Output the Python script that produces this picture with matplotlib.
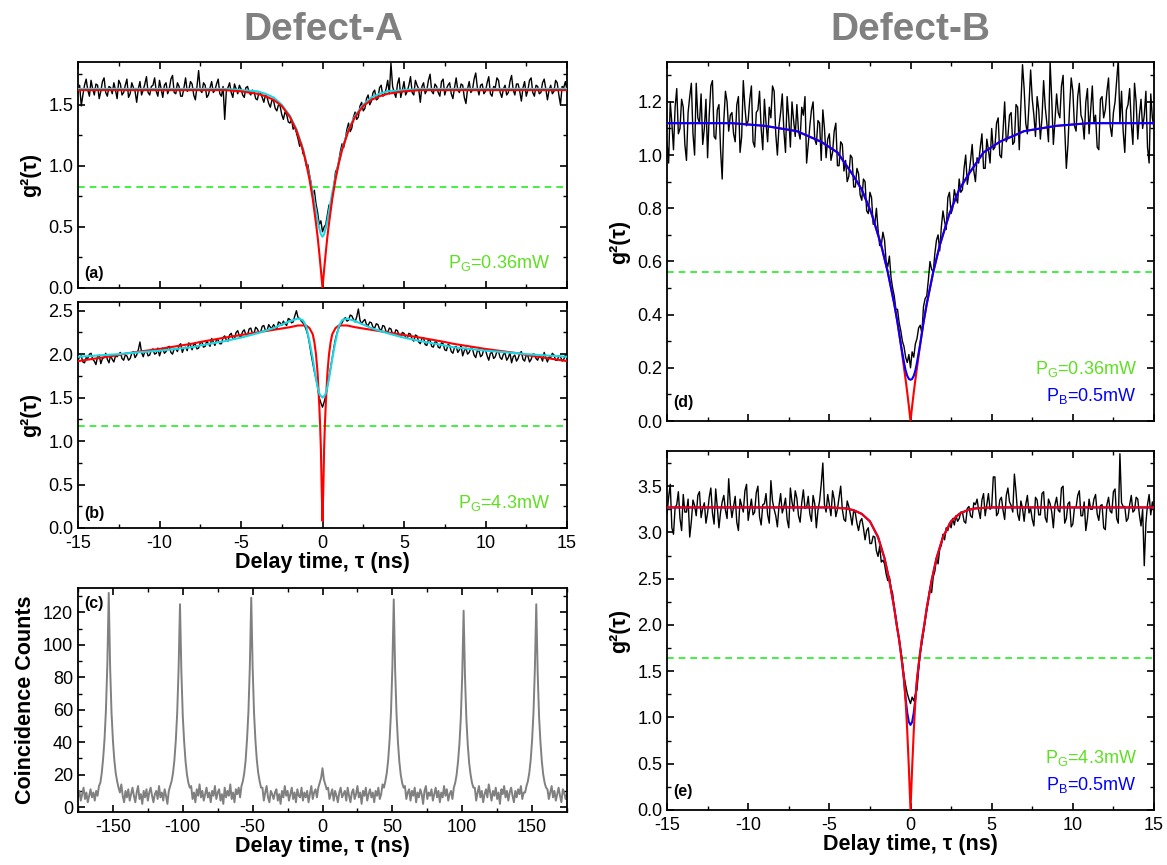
import numpy as np
import matplotlib

matplotlib.use("Agg")
import matplotlib.pyplot as plt
from matplotlib.ticker import MultipleLocator, FormatStrFormatter

INK = "#000000"
RED = "#ff0000"
CYAN = "#19d8e6"
BLUE = "#0000ff"
LIME = "#22ee22"
LIME_TXT = "#5ee022"
GRAY = "#808080"

plt.rcParams.update({
    "font.family": ["Liberation Sans", "DejaVu Sans"],
    "mathtext.default": "regular",
    "axes.unicode_minus": False,
    "axes.linewidth": 1.3,
    "xtick.direction": "in",
    "ytick.direction": "in",
    "xtick.top": True,
    "ytick.right": True,
    "xtick.major.size": 5,
    "ytick.major.size": 5,
    "xtick.minor.size": 3,
    "ytick.minor.size": 3,
    "xtick.major.width": 1.2,
    "ytick.major.width": 1.2,
    "xtick.minor.width": 1.0,
    "ytick.minor.width": 1.0,
    "xtick.major.pad": 5,
    "xtick.labelsize": 13,
    "ytick.labelsize": 13,
})

# ---- measured g2 traces, 0.1 ns bins from -15 to 15 ns (one row = 1 ns) ----
BIN_NS = 0.1
G2_A = [1.60, 1.66, 1.49, 1.58, 1.66, 1.71, 1.62, 1.57, 1.70, 1.63,
        1.58, 1.67, 1.66, 1.55, 1.61, 1.69, 1.72, 1.60, 1.57, 1.65,
        1.64, 1.59, 1.68, 1.62, 1.55, 1.70, 1.67, 1.58, 1.60, 1.66,
        1.71, 1.56, 1.59, 1.68, 1.64, 1.61, 1.52, 1.63, 1.69, 1.58,
        1.62, 1.67, 1.73, 1.60, 1.58, 1.65, 1.66, 1.72, 1.61, 1.57,
        1.70, 1.63, 1.56, 1.66, 1.68, 1.59, 1.63, 1.71, 1.74, 1.60,
        1.59, 1.68, 1.65, 1.57, 1.57, 1.64, 1.72, 1.61, 1.62, 1.69,
        1.67, 1.58, 1.54, 1.65, 1.78, 1.62, 1.60, 1.68, 1.66, 1.56,
        1.58, 1.64, 1.69, 1.60, 1.62, 1.67, 1.71, 1.59, 1.57, 1.65,
        1.38, 1.61, 1.64, 1.68, 1.60, 1.56, 1.67, 1.63, 1.59, 1.66,
        1.63, 1.58, 1.56, 1.64, 1.65, 1.60, 1.58, 1.62, 1.61, 1.55,
        1.54, 1.60, 1.60, 1.56, 1.52, 1.58, 1.56, 1.51, 1.48, 1.54,
        1.53, 1.47, 1.45, 1.50, 1.49, 1.42, 1.38, 1.44, 1.42, 1.36,
        1.35, 1.38, 1.30, 1.32, 1.27, 1.22, 1.16, 1.19, 1.10, 1.08,
        1.00, 1.01, 0.93, 0.86, 0.76, 0.80, 0.69, 0.62, 0.52, 0.55,
        0.46, 0.50, 0.52, 0.60, 0.68, 0.66, 0.74, 0.84, 0.95, 0.98,
        1.04, 1.12, 1.18, 1.15, 1.22, 1.30, 1.35, 1.28, 1.31, 1.40,
        1.44, 1.38, 1.40, 1.49, 1.52, 1.45, 1.47, 1.55, 1.58, 1.50,
        1.53, 1.60, 1.62, 1.54, 1.55, 1.64, 1.66, 1.57, 1.58, 1.63,
        1.70, 1.59, 1.84, 1.65, 1.60, 1.56, 1.67, 1.72, 1.56, 1.62,
        1.69, 1.58, 1.61, 1.66, 1.73, 1.60, 1.58, 1.70, 1.66, 1.63,
        1.52, 1.65, 1.68, 1.59, 1.62, 1.70, 1.75, 1.61, 1.59, 1.67,
        1.65, 1.60, 1.57, 1.69, 1.71, 1.58, 1.63, 1.66, 1.68, 1.59,
        1.55, 1.64, 1.72, 1.62, 1.60, 1.67, 1.66, 1.56, 1.51, 1.63,
        1.69, 1.60, 1.62, 1.71, 1.76, 1.64, 1.58, 1.66, 1.67, 1.59,
        1.61, 1.68, 1.73, 1.59, 1.57, 1.65, 1.64, 1.72, 1.70, 1.60,
        1.56, 1.63, 1.66, 1.58, 1.60, 1.69, 1.74, 1.62, 1.58, 1.67,
        1.67, 1.61, 1.53, 1.64, 1.69, 1.57, 1.62, 1.70, 1.72, 1.60,
        1.57, 1.66, 1.65, 1.59, 1.60, 1.68, 1.71, 1.63, 1.54, 1.62,
        1.66, 1.59, 1.61, 1.70, 1.68, 1.58, 1.50, 1.65, 1.64, 1.69,
        1.62]

G2_B = [1.93, 1.97, 1.98, 1.91, 1.90, 1.96, 1.95, 2.00, 2.01, 1.94,
        1.92, 1.88, 1.97, 1.99, 1.89, 1.95, 1.96, 2.01, 1.94, 1.90,
        1.99, 1.94, 1.91, 1.98, 1.97, 2.00, 2.02, 1.95, 1.93, 1.99,
        1.98, 1.93, 1.95, 2.01, 2.03, 1.96, 1.99, 2.05, 2.14, 2.02,
        1.97, 2.03, 2.04, 1.98, 1.99, 2.05, 2.06, 2.00, 2.01, 2.07,
        1.98, 2.04, 2.07, 2.01, 2.03, 2.08, 2.09, 2.02, 2.00, 2.06,
        2.06, 2.03, 2.10, 2.12, 2.02, 2.07, 2.08, 2.04, 2.13, 2.10,
        2.05, 2.11, 2.11, 2.06, 2.07, 2.13, 2.14, 2.08, 2.09, 2.15,
        2.12, 2.09, 2.18, 2.14, 2.10, 2.17, 2.16, 2.12, 2.12, 2.19,
        2.21, 2.16, 2.15, 2.22, 2.24, 2.18, 2.17, 2.25, 2.27, 2.21,
        2.20, 2.26, 2.28, 2.22, 2.22, 2.29, 2.30, 2.24, 2.24, 2.31,
        2.29, 2.25, 2.25, 2.32, 2.33, 2.27, 2.27, 2.34, 2.31, 2.30,
        2.34, 2.31, 2.29, 2.37, 2.36, 2.33, 2.38, 2.35, 2.33, 2.41,
        2.40, 2.36, 2.37, 2.44, 2.50, 2.42, 2.41, 2.38, 2.36, 2.33,
        2.28, 2.22, 2.12, 2.00, 1.90, 1.80, 1.72, 1.62, 1.50, 1.44,
        1.39, 1.45, 1.52, 1.63, 1.74, 1.85, 1.96, 2.08, 2.18, 2.25,
        2.30, 2.34, 2.36, 2.40, 2.42, 2.38, 2.39, 2.45, 2.44, 2.40,
        2.37, 2.43, 2.52, 2.39, 2.35, 2.38, 2.40, 2.34, 2.33, 2.37,
        2.36, 2.31, 2.30, 2.35, 2.34, 2.29, 2.27, 2.33, 2.32, 2.26,
        2.25, 2.30, 2.29, 2.23, 2.22, 2.28, 2.27, 2.21, 2.20, 2.25,
        2.24, 2.19, 2.18, 2.24, 2.23, 2.17, 2.15, 2.22, 2.21, 2.14,
        2.12, 2.18, 2.19, 2.11, 2.10, 2.17, 2.16, 2.09, 2.08, 2.14,
        2.14, 2.08, 2.07, 2.13, 2.12, 2.05, 2.04, 2.11, 2.10, 2.03,
        2.01, 2.08, 2.09, 2.02, 2.05, 2.10, 1.98, 2.04, 2.07, 2.00,
        2.02, 2.07, 2.06, 1.99, 1.96, 2.04, 2.04, 1.97, 1.99, 2.06,
        2.05, 1.98, 1.93, 2.01, 2.02, 1.95, 1.97, 2.03, 2.03, 1.96,
        1.94, 2.00, 2.01, 1.93, 1.96, 2.02, 1.90, 1.97, 1.99, 1.92,
        1.95, 2.01, 2.03, 1.94, 1.92, 1.99, 1.98, 1.91, 1.94, 2.00,
        2.00, 1.95, 1.93, 1.99, 1.97, 1.92, 2.02, 1.96, 1.91, 1.97,
        1.96, 2.01, 1.99, 1.93, 1.93, 1.98, 1.97, 1.92, 1.94, 1.99,
        1.96]

G2_D = [1.05, 0.97, 1.20, 1.12, 1.02, 1.18, 1.25, 1.08, 1.10, 1.21,
        1.18, 1.04, 0.98, 1.16, 1.22, 1.27, 1.08, 1.00, 1.27, 1.14,
        1.12, 1.23, 1.04, 1.10, 1.21, 0.99, 1.15, 1.26, 1.28, 1.07,
        1.06, 1.17, 1.19, 1.02, 0.91, 1.13, 1.24, 1.20, 1.09, 1.15,
        1.16, 1.08, 1.05, 1.19, 1.22, 1.01, 1.07, 1.28, 1.18, 1.11,
        1.13, 1.21, 1.26, 1.05, 1.03, 1.16, 1.17, 1.24, 1.10, 1.02,
        1.21, 1.12, 1.05, 1.18, 1.14, 1.26, 1.24, 1.08, 1.00, 1.11,
        1.16, 1.23, 1.09, 1.01, 1.22, 1.14, 1.03, 1.20, 1.13, 1.07,
        1.19, 1.09, 1.06, 1.18, 1.15, 1.22, 0.97, 1.04, 1.11, 1.17,
        1.20, 1.06, 1.04, 1.13, 1.12, 0.98, 1.17, 1.10, 0.99, 1.06,
        1.08, 0.98, 1.01, 1.09, 1.12, 0.96, 0.96, 1.05, 1.04, 0.94,
        0.98, 0.90, 0.92, 1.00, 0.99, 0.88, 0.88, 0.95, 0.93, 0.85,
        0.83, 0.91, 0.90, 0.79, 0.78, 0.86, 0.84, 0.74, 0.74, 0.80,
        0.72, 0.66, 0.66, 0.71, 0.68, 0.60, 0.58, 0.62, 0.54, 0.50,
        0.47, 0.42, 0.42, 0.37, 0.34, 0.30, 0.28, 0.24, 0.22, 0.25,
        0.20, 0.26, 0.24, 0.29, 0.31, 0.35, 0.36, 0.33, 0.43, 0.46,
        0.47, 0.53, 0.60, 0.57, 0.56, 0.63, 0.68, 0.70, 0.64, 0.73,
        0.79, 0.75, 0.72, 0.84, 0.86, 0.78, 0.80, 0.87, 0.84, 0.82,
        0.91, 0.86, 0.87, 0.95, 1.00, 0.89, 0.93, 0.98, 1.04, 0.94,
        0.90, 0.99, 0.97, 1.03, 1.08, 0.95, 0.95, 1.06, 1.02, 0.97,
        1.10, 1.02, 1.03, 1.12, 1.14, 1.00, 0.99, 1.09, 1.20, 1.05,
        1.07, 1.15, 1.16, 1.04, 1.05, 1.19, 1.18, 1.02, 1.19, 1.34,
        1.25, 1.12, 1.08, 1.19, 1.32, 1.21, 1.15, 1.07, 1.22, 1.17,
        1.06, 1.14, 1.28, 1.18, 1.12, 1.05, 1.35, 1.21, 1.04, 1.13,
        1.23, 1.16, 1.14, 1.26, 1.30, 1.10, 0.95, 1.04, 1.18, 1.29,
        1.24, 1.11, 1.09, 1.22, 1.27, 1.15, 1.13, 1.06, 1.20, 1.25,
        1.08, 1.17, 1.26, 1.12, 1.15, 1.03, 1.02, 1.21, 1.22, 1.14,
        1.17, 1.24, 1.29, 1.11, 1.07, 1.16, 1.20, 1.28, 1.36, 1.12,
        1.24, 1.09, 1.01, 1.17, 1.19, 1.25, 1.12, 1.04, 1.27, 1.20,
        1.06, 1.15, 1.21, 1.10, 1.15, 1.24, 1.03, 0.97, 1.23, 1.14,
        1.10]

G2_E = [3.20, 3.38, 3.52, 3.05, 2.98, 3.27, 3.30, 3.44, 3.15, 3.02,
        3.41, 3.22, 3.22, 3.36, 2.95, 3.12, 3.35, 3.29, 3.18, 3.40,
        3.44, 3.16, 3.26, 3.32, 3.10, 3.21, 3.38, 3.48, 3.21, 3.09,
        3.47, 3.27, 3.05, 3.22, 3.33, 3.40, 3.24, 3.15, 3.58, 3.31,
        3.16, 3.28, 3.39, 3.11, 3.02, 3.36, 3.29, 3.22, 3.45, 3.52,
        3.13, 3.25, 3.36, 3.19, 3.22, 3.43, 3.50, 3.17, 3.08, 3.30,
        3.31, 3.42, 3.19, 3.10, 3.56, 3.34, 3.25, 3.18, 3.06, 3.29,
        3.42, 3.21, 3.28, 3.37, 3.14, 3.05, 3.48, 3.33, 3.23, 3.45,
        3.37, 3.18, 3.11, 3.32, 3.46, 3.26, 3.27, 3.39, 3.20, 3.12,
        3.40, 3.31, 3.05, 3.24, 3.34, 3.52, 3.75, 3.30, 3.22, 3.41,
        3.30, 3.18, 3.45, 3.36, 3.17, 3.25, 3.38, 3.50, 3.25, 3.14,
        3.12, 3.34, 3.28, 3.19, 3.08, 3.24, 3.21, 3.10, 3.02, 3.12,
        3.15, 3.05, 2.92, 3.02, 3.05, 2.88, 2.88, 2.96, 2.95, 2.80,
        2.74, 2.85, 2.68, 2.70, 2.66, 2.55, 2.48, 2.52, 2.40, 2.34,
        2.18, 2.08, 1.95, 1.85, 1.72, 1.60, 1.45, 1.35, 1.26, 1.20,
        1.15, 1.22, 1.18, 1.25, 1.30, 1.52, 1.70, 1.80, 1.92, 2.05,
        2.16, 2.26, 2.40, 2.35, 2.52, 2.58, 2.72, 2.66, 2.82, 2.86,
        2.98, 2.92, 3.05, 3.02, 3.10, 3.05, 3.15, 3.08, 3.18, 3.12,
        3.15, 3.22, 3.22, 3.12, 3.10, 3.26, 3.28, 3.18, 3.16, 3.32,
        3.30, 3.36, 3.24, 3.15, 3.35, 3.42, 3.18, 3.30, 3.42, 3.25,
        3.27, 3.60, 3.60, 3.18, 3.21, 3.35, 3.38, 3.24, 3.14, 3.40,
        3.48, 3.33, 3.29, 3.22, 3.63, 3.44, 3.20, 3.13, 3.34, 3.26,
        3.12, 3.30, 3.40, 3.21, 3.26, 3.14, 3.07, 3.38, 3.35, 3.19,
        3.19, 3.42, 3.44, 3.16, 3.11, 3.36, 3.31, 3.22, 3.05, 3.30,
        3.38, 3.24, 3.22, 3.48, 3.50, 3.10, 3.15, 3.31, 3.33, 3.06,
        3.09, 3.27, 3.27, 3.40, 3.45, 3.18, 3.18, 3.33, 3.02, 3.15,
        3.36, 3.25, 3.25, 3.36, 3.41, 3.20, 3.13, 3.29, 3.30, 3.05,
        3.03, 3.30, 3.38, 3.23, 3.21, 3.44, 3.47, 3.15, 3.10, 3.85,
        3.32, 3.28, 3.28, 3.12, 3.15, 3.30, 3.40, 3.22, 3.24, 3.38,
        3.36, 3.19, 3.07, 3.25, 2.64, 3.10, 3.30, 3.41, 3.19, 3.33,
        3.25]

# ---- fit curves, read as one half (tau >= 0), symmetric in tau ----
FIT_T_A = [0, 0.1, 0.2, 0.3, 0.4, 0.6, 0.8, 1.0, 1.2, 1.6, 2.0, 2.5, 3.0, 3.5, 4.0, 5.0, 6.0, 15.0]
RED_A = [0.0, 0.15, 0.29, 0.42, 0.53, 0.73, 0.89, 1.02, 1.13, 1.29, 1.40, 1.49, 1.54, 1.57, 1.59, 1.61, 1.62, 1.62]
CYAN_A = [0.42, 0.44, 0.49, 0.55, 0.63, 0.78, 0.91, 1.03, 1.14, 1.30, 1.41, 1.50, 1.56, 1.59, 1.61, 1.62, 1.63, 1.63]

FIT_T_B = [0, 0.05, 0.1, 0.15, 0.2, 0.3, 0.4, 0.5, 0.6, 0.8, 1.0, 1.2, 1.5, 2.0, 3.0, 4.0, 5.0, 6.0, 7.5, 8.0, 10.0, 12.0, 12.5, 15.0]
RED_B = [0.08, 0.45, 0.92, 1.20, 1.42, 1.78, 2.00, 2.14, 2.23, 2.30, 2.33, 2.33, 2.33, 2.31, 2.28, 2.25, 2.22, 2.19, 2.14, 2.12, 2.06, 2.01, 1.99, 1.92]
CYAN_B = [1.50, 1.51, 1.52, 1.53, 1.55, 1.62, 1.72, 1.83, 1.95, 2.15, 2.32, 2.39, 2.41, 2.38, 2.30, 2.24, 2.19, 2.15, 2.10, 2.08, 2.04, 2.01, 2.00, 1.97]

FIT_T_D = [0, 0.1, 0.2, 0.3, 0.4, 0.6, 0.8, 1.0, 1.4, 1.8, 2.4, 3.0, 3.6, 4.5, 5.5, 7.0, 9.0, 11.0, 15.0]
RED_D = [0.0, 0.055, 0.107, 0.155, 0.20, 0.29, 0.37, 0.44, 0.56, 0.66, 0.78, 0.87, 0.93, 1.01, 1.05, 1.09, 1.11, 1.12, 1.12]
BLUE_D = [0.155, 0.158, 0.17, 0.19, 0.22, 0.29, 0.37, 0.44, 0.56, 0.66, 0.78, 0.87, 0.93, 1.01, 1.05, 1.09, 1.11, 1.12, 1.12]

FIT_T_E = [0, 0.1, 0.2, 0.3, 0.4, 0.55, 0.7, 0.85, 1.0, 1.3, 1.6, 2.0, 2.5, 3.0, 3.5, 4.0, 5.0, 15.0]
RED_E = [0.0, 0.45, 0.85, 1.18, 1.42, 1.64, 1.84, 2.00, 2.18, 2.48, 2.72, 2.95, 3.12, 3.20, 3.24, 3.26, 3.27, 3.27]
BLUE_E = [0.92, 0.95, 1.05, 1.20, 1.40, 1.64, 1.84, 2.00, 2.18, 2.48, 2.72, 2.95, 3.12, 3.20, 3.24, 3.26, 3.27, 3.27]

# 50% threshold lines
HALF_A, HALF_B, HALF_D, HALF_E = 0.83, 1.17, 0.56, 1.64

# ---- raw coincidence histogram, 1 ns bins from -175 to 175 ns ----
COUNTS_C = [6, 10, 4, 8, 12, 5, 9, 3, 7, 11,
            6, 9, 4, 10, 7, 13, 15, 21, 30, 42,
            60, 88, 132, 86, 58, 41, 29, 21, 16, 12,
            9, 14, 7, 3, 10, 6, 11, 4, 8, 12,
            7, 3, 9, 13, 5, 8, 2, 10, 6, 11,
            4, 9, 12, 7, 3, 8, 10, 5, 13, 6,
            9, 4, 11, 7, 2, 10, 13, 16, 21, 29,
            41, 58, 85, 125, 83, 56, 40, 28, 20, 15,
            12, 13, 5, 9, 3, 11, 7, 14, 6, 10,
            4, 8, 12, 6, 9, 3, 10, 7, 13, 5,
            9, 11, 4, 8, 2, 12, 6, 10, 7, 14,
            5, 9, 3, 11, 8, 12, 6, 13, 16, 21,
            29, 42, 59, 87, 129, 86, 58, 41, 29, 21,
            16, 12, 12, 4, 9, 13, 6, 3, 10, 8,
            5, 9, 11, 4, 8, 2, 10, 6, 13, 7,
            10, 4, 8, 12, 5, 9, 3, 11, 7, 6,
            12, 4, 9, 6, 10, 3, 8, 13, 5, 9,
            11, 6, 12, 15, 18, 24, 17, 14, 11, 12,
            5, 8, 11, 4, 10, 7, 3, 9, 12, 6,
            8, 10, 4, 12, 7, 3, 9, 11, 5, 8,
            13, 6, 9, 2, 10, 7, 12, 4, 8, 11,
            6, 9, 3, 10, 7, 12, 5, 8, 14, 12,
            16, 21, 29, 41, 58, 86, 128, 84, 57, 40,
            28, 20, 15, 12, 13, 5, 9, 11, 4, 10,
            7, 12, 3, 9, 6, 11, 8, 2, 10, 13,
            5, 9, 7, 11, 4, 8, 12, 6, 10, 3,
            9, 6, 13, 7, 11, 4, 8, 10, 5, 12,
            15, 20, 28, 39, 55, 81, 121, 80, 54, 38,
            27, 20, 15, 12, 12, 4, 9, 13, 6, 10,
            3, 8, 11, 6, 14, 9, 4, 10, 7, 12,
            5, 9, 2, 11, 8, 13, 6, 10, 4, 9,
            12, 7, 3, 10, 6, 11, 8, 13, 5, 9,
            9, 13, 16, 21, 29, 41, 58, 85, 125, 83,
            56, 40, 28, 20, 15, 12, 11, 5, 9, 13,
            6, 10, 4, 8, 12, 7, 3, 11, 9, 5,
            8]

W, H = 1167, 865


def mirror(t, y):
    t = np.asarray(t, float)
    y = np.asarray(y, float)
    return np.concatenate([-t[::-1], t[1:]]), np.concatenate([y[::-1], y[1:]])


def px_axes(fig, left, top, right, bottom):
    return fig.add_axes([left / W, 1 - bottom / H, (right - left) / W, (bottom - top) / H])


def style_g2(ax, ymax, ymajor, show_x):
    ax.set_xlim(-15, 15)
    ax.set_ylim(0, ymax)
    ax.xaxis.set_major_locator(MultipleLocator(5))
    ax.xaxis.set_minor_locator(MultipleLocator(2.5))
    ax.yaxis.set_major_locator(MultipleLocator(ymajor))
    ax.yaxis.set_minor_locator(MultipleLocator(ymajor / 2))
    ax.yaxis.set_major_formatter(FormatStrFormatter("%.1f"))
    ax.tick_params(which="both", top=True, right=True)
    ax.set_ylabel("g²(τ)", fontsize=15.5, fontweight="bold", labelpad=5)
    if show_x:
        ax.set_xlabel("Delay time, τ (ns)", fontsize=15.5, fontweight="bold", labelpad=0)
    else:
        ax.tick_params(labelbottom=False)


def draw_g2(ax, data, fits, half):
    x = np.arange(len(data)) * BIN_NS - 15
    ax.plot(x, data, color=INK, lw=1.0, zorder=2)
    for t, y, c in fits:
        tx, ty = mirror(t, y)
        ax.plot(tx, ty, color=c, lw=1.5, zorder=3)
    ax.axhline(half, color=LIME, lw=1.2, ls=(0, (4, 3)), zorder=1)


def power_text(ax, lines):
    # lines listed top to bottom; offsets in pixels above the bottom spine
    n = len(lines)
    for i, (txt, c) in enumerate(lines):
        ax.annotate(txt, xy=(0.965, 0), xycoords="axes fraction",
                    xytext=(0, 25 + 27 * (n - 1 - i)), textcoords="offset pixels",
                    color=c, fontsize=13, ha="right", va="center")


def panel_tag(ax, tag, top=False):
    y = 0.93 if top else 0.03
    ax.text(0.012, y, tag, transform=ax.transAxes, fontsize=11.5, fontweight="bold",
            va="bottom" if not top else "center")


fig = plt.figure(figsize=(W / 100, H / 100), dpi=100)

# (a)
ax_a = px_axes(fig, 78, 62, 567, 288)
draw_g2(ax_a, G2_A, [(FIT_T_A, CYAN_A, CYAN), (FIT_T_A, RED_A, RED)], HALF_A)
style_g2(ax_a, 1.85, 0.5, False)
panel_tag(ax_a, "(a)")
power_text(ax_a, [(r"P$_\mathregular{G}$=0.36mW", LIME_TXT)])

# (b)
ax_b = px_axes(fig, 78, 302, 567, 528)
draw_g2(ax_b, G2_B, [(FIT_T_B, RED_B, RED), (FIT_T_B, CYAN_B, CYAN)], HALF_B)
style_g2(ax_b, 2.6, 0.5, True)
panel_tag(ax_b, "(b)")
power_text(ax_b, [(r"P$_\mathregular{G}$=4.3mW", LIME_TXT)])

# (c)
ax_c = px_axes(fig, 78, 588, 567, 812)
xc = np.arange(len(COUNTS_C)) - 175
ax_c.plot(xc, COUNTS_C, color=GRAY, lw=1.4)
ax_c.set_xlim(-175, 175)
ax_c.set_ylim(-3, 135)
ax_c.xaxis.set_major_locator(MultipleLocator(50))
ax_c.xaxis.set_minor_locator(MultipleLocator(25))
ax_c.yaxis.set_major_locator(MultipleLocator(20))
ax_c.yaxis.set_minor_locator(MultipleLocator(10))
ax_c.tick_params(which="both", top=True, right=True)
ax_c.set_ylabel("Coincidence Counts", fontsize=15.5, fontweight="bold", labelpad=5)
ax_c.set_xlabel("Delay time, τ (ns)", fontsize=15.5, fontweight="bold", labelpad=0)
panel_tag(ax_c, "(c)", top=True)

# (d)
ax_d = px_axes(fig, 667, 62, 1154, 421)
draw_g2(ax_d, G2_D, [(FIT_T_D, RED_D, RED), (FIT_T_D, BLUE_D, BLUE)], HALF_D)
style_g2(ax_d, 1.35, 0.2, False)
panel_tag(ax_d, "(d)")
power_text(ax_d, [(r"P$_\mathregular{G}$=0.36mW", LIME_TXT), (r"P$_\mathregular{B}$=0.5mW", BLUE)])

# (e)
ax_e = px_axes(fig, 667, 451, 1154, 810)
draw_g2(ax_e, G2_E, [(FIT_T_E, BLUE_E, BLUE), (FIT_T_E, RED_E, RED)], HALF_E)
style_g2(ax_e, 3.88, 0.5, True)
panel_tag(ax_e, "(e)")
power_text(ax_e, [(r"P$_\mathregular{G}$=4.3mW", LIME_TXT), (r"P$_\mathregular{B}$=0.5mW", BLUE)])

fig.text(323 / W, 1 - 30 / H, "Defect-A", ha="center", va="center", fontsize=28,
         fontweight="bold", color=GRAY)
fig.text(910 / W, 1 - 30 / H, "Defect-B", ha="center", va="center", fontsize=28,
         fontweight="bold", color=GRAY)

fig.savefig("out.png", dpi=100)
